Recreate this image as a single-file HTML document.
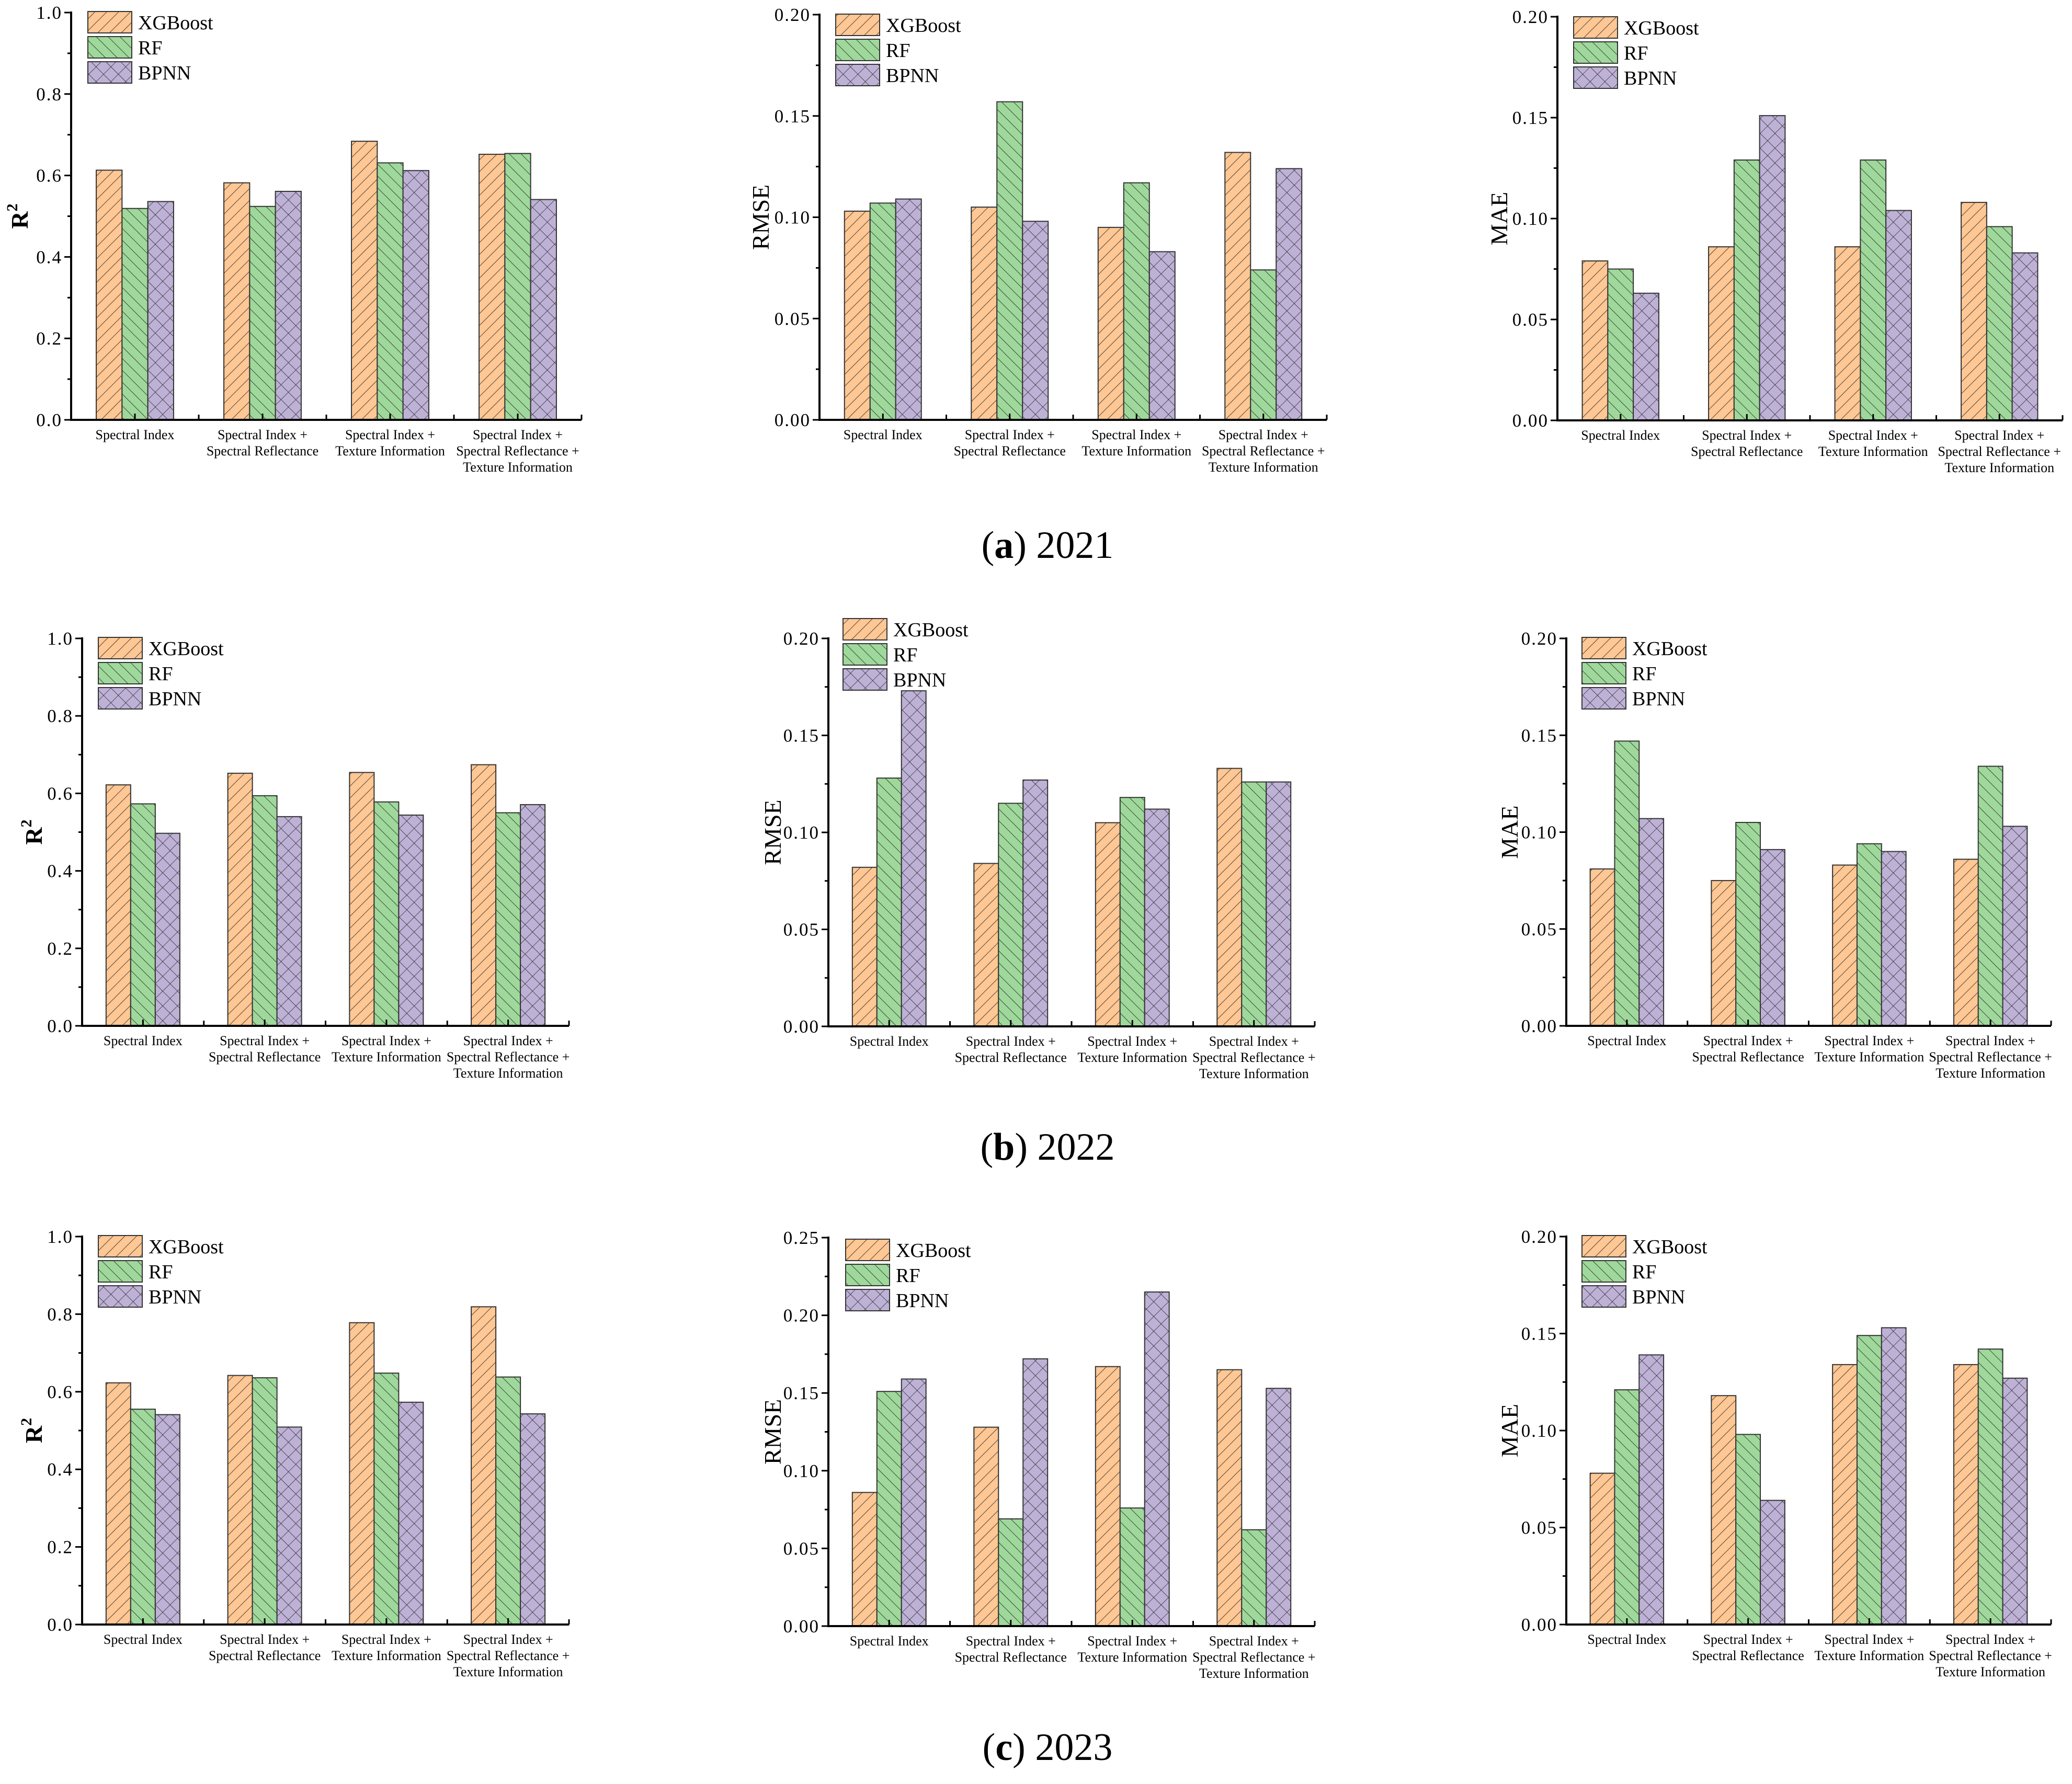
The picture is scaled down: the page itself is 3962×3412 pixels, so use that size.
<!DOCTYPE html>
<html><head><meta charset="utf-8">
<style>
html,body{margin:0;padding:0;background:#fff;}
svg{display:block;}
text{font-family:"Liberation Serif",serif;}
</style></head>
<body>
<svg id="fig" width="3962" height="3412" viewBox="0 0 3962 3412" xmlns="http://www.w3.org/2000/svg">
<defs>
<pattern id="pX" patternUnits="userSpaceOnUse" width="16" height="16" patternTransform="rotate(45)">
<rect width="16" height="16" fill="#FEC794"/><line x1="0" y1="0" x2="0" y2="16" stroke="#222" stroke-width="1.6"/></pattern>
<pattern id="pR" patternUnits="userSpaceOnUse" width="16" height="16" patternTransform="rotate(-45)">
<rect width="16" height="16" fill="#9FD89B"/><line x1="0" y1="0" x2="0" y2="16" stroke="#222" stroke-width="1.6"/></pattern>
<pattern id="pB" patternUnits="userSpaceOnUse" width="20" height="20" patternTransform="rotate(45)">
<rect width="20" height="20" fill="#BEB1D6"/><line x1="0" y1="0" x2="0" y2="20" stroke="#222" stroke-width="1.4"/><line x1="0" y1="0" x2="20" y2="0" stroke="#222" stroke-width="1.4"/></pattern>
</defs>
<g id="root"></g>
</svg>
<script>
// ---- data ----
const seriesNames = ["XGBoost","RF","BPNN"];
const catLines = [["Spectral Index"],["Spectral Index +","Spectral Reflectance"],["Spectral Index +","Texture Information"],["Spectral Index +","Spectral Reflectance +","Texture Information"]];
const captions = [["a","2021"],["b","2022"],["c","2023"]];
// 2021
const r2_2021_xgb = [0.613,0.582,0.684,0.652];
const r2_2021_rf  = [0.519,0.524,0.631,0.654];
const r2_2021_bp  = [0.536,0.561,0.612,0.541];
const rmse_2021_xgb = [0.103,0.105,0.095,0.132];
const rmse_2021_rf  = [0.107,0.157,0.117,0.074];
const rmse_2021_bp  = [0.109,0.098,0.083,0.124];
const mae_2021_xgb = [0.079,0.086,0.086,0.108];
const mae_2021_rf  = [0.075,0.129,0.129,0.096];
const mae_2021_bp  = [0.063,0.151,0.104,0.083];
// 2022
const r2_2022_xgb = [0.622,0.652,0.654,0.674];
const r2_2022_rf  = [0.573,0.594,0.578,0.550];
const r2_2022_bp  = [0.497,0.540,0.544,0.571];
const rmse_2022_xgb = [0.082,0.084,0.105,0.133];
const rmse_2022_rf  = [0.128,0.115,0.118,0.126];
const rmse_2022_bp  = [0.173,0.127,0.112,0.126];
const mae_2022_xgb = [0.081,0.075,0.083,0.086];
const mae_2022_rf  = [0.147,0.105,0.094,0.134];
const mae_2022_bp  = [0.107,0.091,0.090,0.103];
// 2023
const r2_2023_xgb = [0.623,0.642,0.778,0.819];
const r2_2023_rf  = [0.555,0.636,0.648,0.638];
const r2_2023_bp  = [0.541,0.509,0.573,0.543];
const rmse_2023_xgb = [0.086,0.128,0.167,0.165];
const rmse_2023_rf  = [0.151,0.069,0.076,0.062];
const rmse_2023_bp  = [0.159,0.172,0.215,0.153];
const mae_2023_xgb = [0.078,0.118,0.134,0.134];
const mae_2023_rf  = [0.121,0.098,0.149,0.142];
const mae_2023_bp  = [0.139,0.064,0.153,0.127];
const r2Ticks = [0,0.2,0.4,0.6,0.8,1.0];
const err20Ticks = [0,0.05,0.10,0.15,0.20];
const err25Ticks = [0,0.05,0.10,0.15,0.20,0.25];

// ---- layout ----
const panels = [
 {id:"r2-2021",L:136,R:1112,T:24,B:803,ticks:r2Ticks,dec:1,title:"R2",tx:39,lx:168,ly:22,s:[r2_2021_xgb,r2_2021_rf,r2_2021_bp]},
 {id:"rmse-2021",L:1567,R:2537,T:28,B:803,ticks:err20Ticks,dec:2,title:"RMSE",tx:1454,lx:1598,ly:27,s:[rmse_2021_xgb,rmse_2021_rf,rmse_2021_bp]},
 {id:"mae-2021",L:2978,R:3944,T:32,B:804,ticks:err20Ticks,dec:2,title:"MAE",tx:2866,lx:3009,ly:32,s:[mae_2021_xgb,mae_2021_rf,mae_2021_bp]},
 {id:"r2-2022",L:157,R:1088,T:1221,B:1962,ticks:r2Ticks,dec:1,title:"R2",tx:66,lx:188,ly:1219,s:[r2_2022_xgb,r2_2022_rf,r2_2022_bp]},
 {id:"rmse-2022",L:1584,R:2514,T:1221,B:1963,ticks:err20Ticks,dec:2,title:"RMSE",tx:1477,lx:1612,ly:1183,s:[rmse_2022_xgb,rmse_2022_rf,rmse_2022_bp]},
 {id:"mae-2022",L:2995,R:3922,T:1221,B:1962,ticks:err20Ticks,dec:2,title:"MAE",tx:2886,lx:3025,ly:1219,s:[mae_2022_xgb,mae_2022_rf,mae_2022_bp]},
 {id:"r2-2023",L:157,R:1088,T:2365,B:3107,ticks:r2Ticks,dec:1,title:"R2",tx:66,lx:188,ly:2363,s:[r2_2023_xgb,r2_2023_rf,r2_2023_bp]},
 {id:"rmse-2023",L:1584,R:2514,T:2367,B:3110,ticks:err25Ticks,dec:2,title:"RMSE",tx:1477,lx:1617,ly:2370,s:[rmse_2023_xgb,rmse_2023_rf,rmse_2023_bp]},
 {id:"mae-2023",L:2995,R:3922,T:2365,B:3107,ticks:err20Ticks,dec:2,title:"MAE",tx:2886,lx:3025,ly:2363,s:[mae_2023_xgb,mae_2023_rf,mae_2023_bp]}
];
const captionY = [1067,2218,3366];
const fills = ["url(#pX)","url(#pR)","url(#pB)"];
const NS = "http://www.w3.org/2000/svg";
const root = document.getElementById("root");
function mk(tag, attrs, parent){
  const e = document.createElementNS(NS, tag);
  for (const k in attrs) e.setAttribute(k, attrs[k]);
  (parent||root).appendChild(e);
  return e;
}
panels.forEach(function(p){
  const g = mk("g",{});
  
  
  const max = p.ticks[p.ticks.length-1];
  const y = v => p.B - (v/max)*(p.B-p.T);
  const W = p.R - p.L, gw = W/4, bw = W*0.0505;
  const xc = i => p.L + gw*(i+0.5);
  for (let s=0;s<3;s++){
    for (let i=0;i<4;i++){
      const v = p.s[s][i];
      const r = mk("rect",{x:xc(i)+(s-1.5)*bw, y:y(v), width:bw, height:p.B-y(v), fill:fills[s], stroke:"#333", "stroke-width":2}, g);
      
      
    }
  }
  const ya = mk("g",{},g);
  
  
  mk("line",{x1:p.L,y1:p.T-2,x2:p.L,y2:p.B+2,stroke:"#000","stroke-width":4},ya);
  const step = p.ticks[1]-p.ticks[0];
  p.ticks.forEach(function(t,k){
    mk("line",{x1:p.L-13,y1:y(t),x2:p.L,y2:y(t),stroke:"#000","stroke-width":3},ya);
    if (k < p.ticks.length-1) mk("line",{x1:p.L-7,y1:y(t+step/2),x2:p.L,y2:y(t+step/2),stroke:"#000","stroke-width":3},ya);
    const tl = mk("text",{x:p.L-17,y:y(t)+12,"font-size":35,"text-anchor":"end","letter-spacing":2,fill:"#000"},ya);
    tl.textContent = t.toFixed(p.dec);
    
    
  });
  const xa = mk("g",{},g);
  
  
  mk("line",{x1:p.L-2,y1:p.B,x2:p.R,y2:p.B,stroke:"#000","stroke-width":4},xa);
  for (let i=0;i<=4;i++){
    mk("line",{x1:p.L+gw*i,y1:p.B,x2:p.L+gw*i,y2:p.B-10,stroke:"#000","stroke-width":3},xa);
    if (i<4) mk("line",{x1:xc(i),y1:p.B,x2:xc(i),y2:p.B-12,stroke:"#000","stroke-width":3},xa);
  }
  catLines.forEach(function(lines,i){
    const t = mk("text",{x:xc(i),y:p.B+37,"font-size":26,"text-anchor":"middle",fill:"#000"},xa);
    
    
    lines.forEach(function(ln,j){
      const ts = mk("tspan",{x:xc(i),dy:j===0?0:31},t);
      ts.textContent = ln;
    });
  });
  const cy = (p.T+p.B)/2;
  const tt = mk("text",{x:p.tx,y:cy,"font-size":46,"text-anchor":"middle",transform:"rotate(-90 "+p.tx+" "+cy+")",fill:"#000"},g);
  
  
  if (p.title === "R2"){
    tt.setAttribute("font-weight","bold");
    tt.setAttribute("dy","14");
    const a = mk("tspan",{},tt); a.textContent = "R";
    const b = mk("tspan",{"font-size":30,dy:-20}, tt); b.textContent = "2";
  } else {
    tt.setAttribute("dy","16");
    tt.textContent = p.title;
  }
  const lg = mk("g",{},g);
  
  
  seriesNames.forEach(function(n,s){
    const e = mk("g",{},lg);
    
    
    mk("rect",{x:p.lx,y:p.ly+s*48,width:84,height:41,fill:fills[s],stroke:"#333","stroke-width":2},e);
    const lt = mk("text",{x:p.lx+96,y:p.ly+s*48+34,"font-size":38,fill:"#000"},e);
    lt.textContent = n;
  });
});
captions.forEach(function(c,i){
  const t = mk("text",{x:2003,y:captionY[i],"font-size":74,"text-anchor":"middle",fill:"#000"});
  
  
  const a = mk("tspan",{},t); a.textContent = "(";
  const b = mk("tspan",{"font-weight":"bold"},t); b.textContent = c[0];
  const d = mk("tspan",{},t); d.textContent = ") " + c[1];
});
</script>
</body></html>
